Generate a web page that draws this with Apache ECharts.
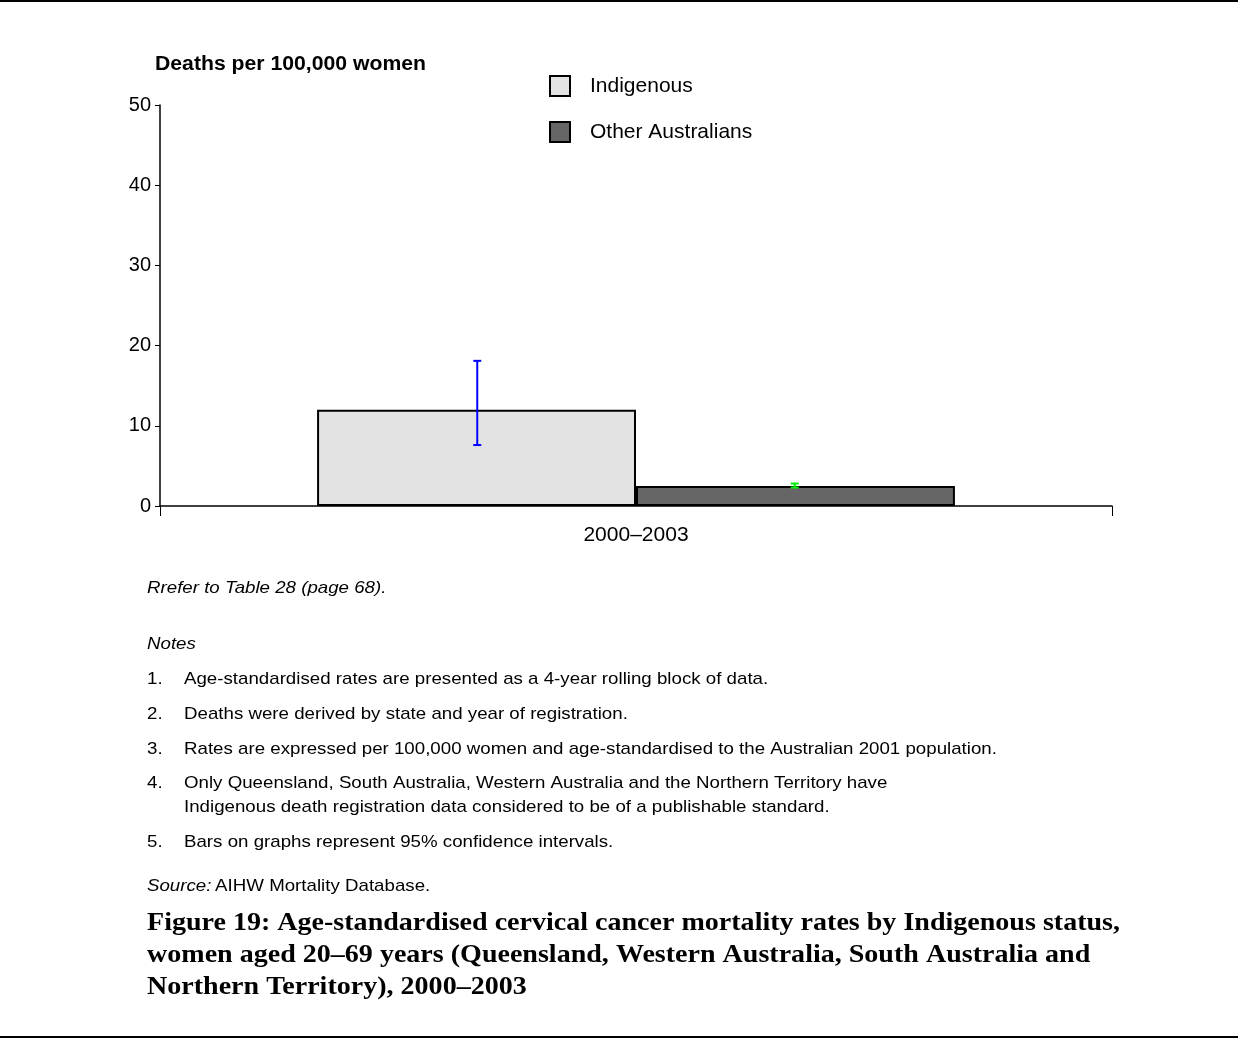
<!DOCTYPE html>
<html><head><meta charset="utf-8">
<script src="https://cdn.jsdelivr.net/npm/echarts@6/dist/echarts.min.js"></script>
<style>html,body{margin:0;padding:0;background:#fff}#c{width:1238px;height:1038px}</style>
</head><body><div id="c"></div>
<script>
const categories = ['2000\u20132003'];
const seriesNames = ['Indigenous', 'Other Australians'];
const indigenous = [12.0];
const otherAus = [2.5];
const indigenousCI = [[7.6, 18.1]];
const otherCI = [[2.3, 2.8]];
const yTicks = [0, 10, 20, 30, 40, 50];

const chart = echarts.init(document.getElementById('c'));
const barCatGap = 0.333;

function errItem(seriesIdx, ciArr, color) {
  return {
    type: 'custom',
    z: 10,
    data: ciArr.map((d, i) => [i, d[0], d[1]]),
    renderItem: function (params, api) {
      const cat = api.value(0);
      const lo = api.coord([cat, api.value(1)]);
      const hi = api.coord([cat, api.value(2)]);
      const band = api.size([1, 0])[0];
      const total = band * (1 - barCatGap);
      const x = lo[0] - total / 2 + total / 4 + seriesIdx * total / 2;
      const cap = 4;
      const st = { stroke: color, lineWidth: 2 };
      return {
        type: 'group',
        children: [
          { type: 'line', shape: { x1: x, y1: lo[1], x2: x, y2: hi[1] }, style: st },
          { type: 'line', shape: { x1: x - cap, y1: lo[1], x2: x + cap, y2: lo[1] }, style: st },
          { type: 'line', shape: { x1: x - cap, y1: hi[1], x2: x + cap, y2: hi[1] }, style: st }
        ]
      };
    }
  };
}

const SANS = '"Liberation Sans", Arial, sans-serif';
const notes = [
  ['1.', 'Age-standardised rates are presented as a 4-year rolling block of data.', 679],
  ['2.', 'Deaths were derived by state and year of registration.', 714],
  ['3.', 'Rates are expressed per 100,000 women and age-standardised to the Australian 2001 population.', 749],
  ['4.', 'Only Queensland, South Australia, Western Australia and the Northern Territory have', 783],
  ['', 'Indigenous death registration data considered to be of a publishable standard.', 807],
  ['5.', 'Bars on graphs represent 95% confidence intervals.', 842]
];
const captionLines = [
  'Figure 19: Age-standardised cervical cancer mortality rates by Indigenous status,',
  'women aged 20\u201369 years (Queensland, Western Australia, South Australia and',
  'Northern Territory), 2000\u20132003'
];
const noteFont = '17px ' + SANS;
const SX = 1.1;

function txt(x, y, text, font, sx, extra) {
  return {
    type: 'text', x: x, y: y, scaleX: sx || 1, originX: 0,
    style: Object.assign({ x: 0, y: 0, text: text, font: font, fill: '#000', verticalAlign: 'middle', align: 'left' }, extra || {})
  };
}

// caption width fit
const capFont = 'bold 26px "Liberation Serif", "Times New Roman", serif';
const cv = document.createElement('canvas').getContext('2d');
cv.font = capFont;
const capW = cv.measureText(captionLines[0]).width;
const capSX = 973 / capW;

const graphics = [
  { type: 'rect', shape: { x: 0, y: 0, width: 1238, height: 2 }, style: { fill: '#000' } },
  { type: 'rect', shape: { x: 0, y: 1036, width: 1238, height: 2 }, style: { fill: '#000' } },
  txt(155, 64, 'Deaths per 100,000 women', 'bold 20px ' + SANS, 1.06),
  txt(147, 588, 'Rrefer to Table 28 (page 68).', 'italic 17px ' + SANS, SX),
  txt(147, 644, 'Notes', 'italic 17px ' + SANS, SX),
  {
    type: 'text', x: 147, y: 886, scaleX: SX,
    style: { x: 0, y: 0, verticalAlign: 'middle', rich: { i: { font: 'italic 17px ' + SANS, fill: '#000' }, n: { font: noteFont, fill: '#000' } }, text: '{i|Source:} {n|AIHW Mortality Database.}' }
  }
];
captionLines.forEach((l, i) => graphics.push(txt(147, 923 + i * 32, l, capFont, capSX)));
notes.forEach(n => {
  if (n[0]) graphics.push(txt(147, n[2], n[0], noteFont, SX));
  graphics.push(txt(184, n[2], n[1], noteFont, SX));
});

chart.setOption({
  animation: false,
  backgroundColor: '#fff',
  textStyle: { fontFamily: SANS },
  grid: { left: 160, right: 126, top: 105, bottom: 532, containLabel: false },
  legend: {
    orient: 'vertical', left: 549, top: 75, padding: 0, itemWidth: 20, itemHeight: 20, itemGap: 24,
    icon: 'rect',
    textStyle: { fontSize: 21, color: '#000', padding: [0, 0, 0, 15] },
    data: seriesNames
  },
  xAxis: {
    type: 'category', data: categories,
    axisLine: { lineStyle: { color: '#000', width: 1.5 } },
    axisTick: { show: true, length: 10, lineStyle: { color: '#000' } },
    axisLabel: { color: '#000', fontSize: 21, margin: 19 }
  },
  yAxis: {
    type: 'value', min: yTicks[0], max: yTicks[yTicks.length - 1], interval: 10,
    axisLine: { show: true, lineStyle: { color: '#000', width: 1.5 } },
    axisTick: { show: true, length: 5, lineStyle: { color: '#000' } },
    splitLine: { show: false },
    axisLabel: { color: '#000', fontSize: 20, margin: 9 }
  },
  series: [
    { name: seriesNames[0], type: 'bar', data: indigenous, barGap: '0%', barCategoryGap: '33%',
      itemStyle: { color: '#e3e3e3', borderColor: '#000', borderWidth: 2 } },
    { name: seriesNames[1], type: 'bar', data: otherAus,
      itemStyle: { color: '#666666', borderColor: '#000', borderWidth: 2 } },
    errItem(0, indigenousCI, '#0000ff'),
    errItem(1, otherCI, '#00ee00')
  ],
  graphic: graphics
});
</script></body></html>
